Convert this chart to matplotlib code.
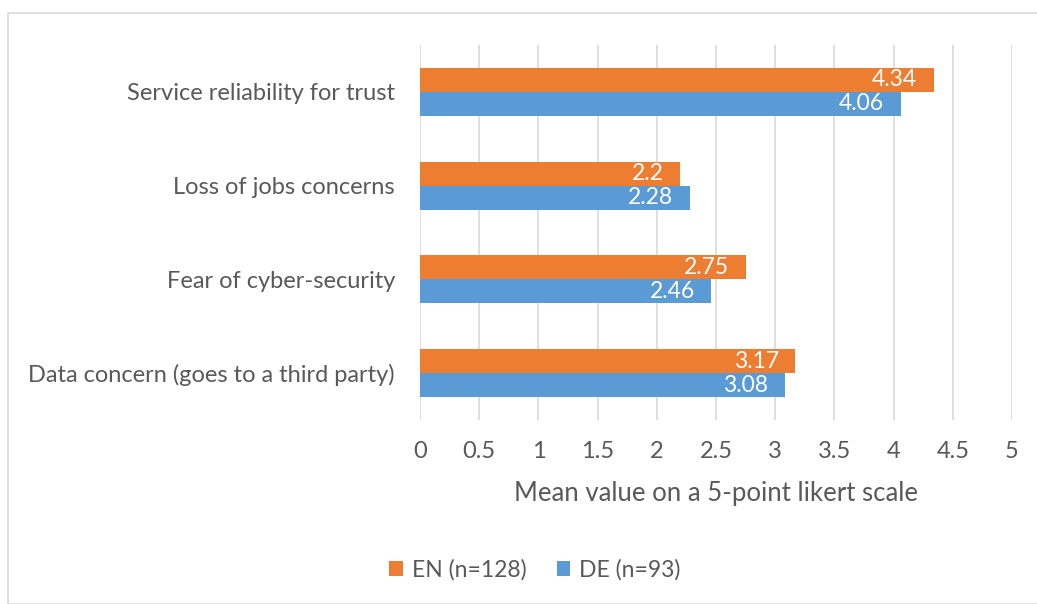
import matplotlib.pyplot as plt
import numpy as np
from matplotlib.patches import Rectangle

plt.rcParams['font.family'] = ['Lato', 'DejaVu Sans']

categories = ['Data concern (goes to a third party)', 'Fear of cyber-security',
              'Loss of jobs concerns', 'Service reliability for trust']
en_values = [3.17, 2.75, 2.2, 4.34]
de_values = [3.08, 2.46, 2.28, 4.06]
series_names = ['EN (n=128)', 'DE (n=93)']
xticks = [0, 0.5, 1, 1.5, 2, 2.5, 3, 3.5, 4, 4.5, 5]

orange = '#ED7D31'
blue = '#5B9BD5'
text_col = '#595959'

fig = plt.figure(figsize=(10.37, 6.04), dpi=100)
ax = fig.add_axes([420 / 1037, 1 - 420 / 604, 592 / 1037, 375 / 604])

# light frame around the chart area
fig.patches.append(Rectangle((8 / 1037, 0), 1.1, 1 - 13 / 604, transform=fig.transFigure,
                             fill=False, edgecolor='#D9D9D9', linewidth=1.2))

y = np.arange(len(categories))
h = 0.255
b_en = ax.barh(y + h / 2, en_values, height=h, color=orange, label=series_names[0], zorder=3)
b_de = ax.barh(y - h / 2, de_values, height=h, color=blue, label=series_names[1], zorder=3)

for bars, vals in [(b_en, en_values), (b_de, de_values)]:
    for bar, v in zip(bars, vals):
        ax.text(v - 0.14, bar.get_y() + bar.get_height() / 2, f'{v:g}',
                ha='right', va='center', color='white', fontsize=16.5, zorder=4)

ax.set_xlim(0, 5)
ax.set_ylim(-0.5, 3.5)
ax.set_xticks(xticks)
ax.set_xticklabels([f'{t:g}' for t in xticks])
ax.set_yticks(y)
ax.set_yticklabels(categories)
ax.tick_params(length=0, labelsize=17, colors=text_col)
ax.tick_params(axis='x', pad=15)
ax.tick_params(axis='y', pad=18)
ax.grid(axis='x', color='#D9D9D9', linewidth=1.2, zorder=0)
for s in ax.spines.values():
    s.set_visible(False)
ax.set_xlabel('Mean value on a 5-point likert scale', fontsize=18.5, color=text_col, labelpad=14)

ax.legend(handles=[b_en, b_de], loc='center', bbox_to_anchor=(535 / 1037, 1 - 570 / 604),
          bbox_transform=fig.transFigure, ncol=2, frameon=False, fontsize=16.5,
          handlelength=0.6, handleheight=0.6, handletextpad=0.4, columnspacing=1.3,
          labelcolor=text_col)

fig.savefig('out.png', dpi=100)
